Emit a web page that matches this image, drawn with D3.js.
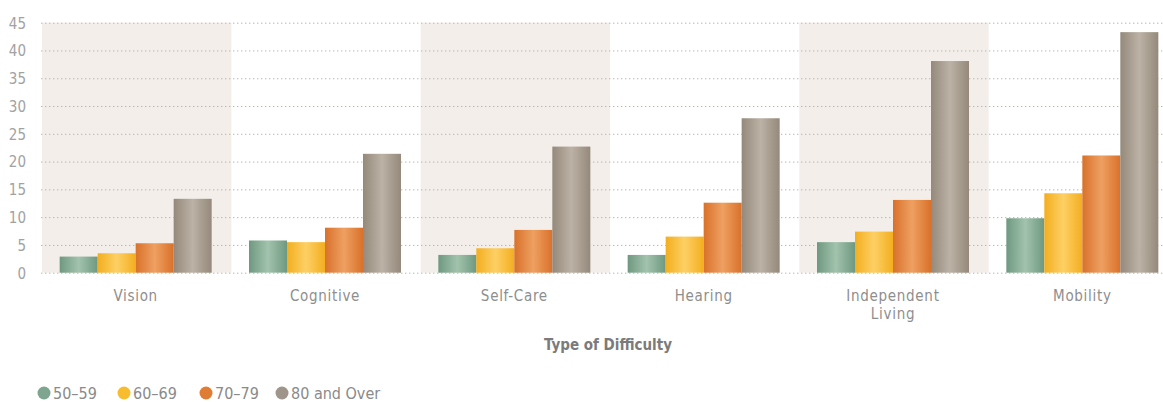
<!DOCTYPE html>
<html>
<head>
<meta charset="utf-8">
<script src="https://cdn.jsdelivr.net/npm/d3@7"></script>
<style>
  html, body { margin: 0; padding: 0; background: #ffffff; }
  svg { display: block; }
  text { font-family: "DejaVu Sans Condensed", "Liberation Sans Narrow", "DejaVu Sans", sans-serif; }
</style>
</head>
<body>
<svg id="chart" width="1163" height="402"></svg>
<script>
// Share of adults reporting each type of difficulty, by age group (%)
const categories = ["Vision", "Cognitive", "Self-Care", "Hearing", "Independent Living", "Mobility"];
const ageGroups = ["50–59", "60–69", "70–79", "80 and Over"];
const age50to59 = [2.9, 5.8, 3.2, 3.2, 5.5, 9.8];
const age60to69 = [3.5, 5.5, 4.4, 6.5, 7.4, 14.3];
const age70to79 = [5.3, 8.1, 7.7, 12.6, 13.1, 21.1];
const age80plus = [13.3, 21.4, 22.7, 27.8, 38.1, 43.3];
const yTicks = [0, 5, 10, 15, 20, 25, 30, 35, 40, 45];
const axisTitle = "Type of Difficulty";

const seriesValues = [age50to59, age60to69, age70to79, age80plus];
const palette = [
  { edge: "#6f9880", mid: "#a2c3ad", key: "#7ea58f" },
  { edge: "#f3ae1f", mid: "#fdd064", key: "#f8bd2e" },
  { edge: "#d9712a", mid: "#eea062", key: "#e07d34" },
  { edge: "#94897b", mid: "#bcb2a5", key: "#a0958a" }
];

const svg = d3.select("#chart");
const W = 1163;
const plot = { left: 41, right: 1177, top: 22.7, bottom: 272.7 };

const x = d3.scaleBand().domain(categories).range([plot.left, plot.right]).padding(0);
const y = d3.scaleLinear().domain([0, 45]).range([plot.bottom, plot.top]);
const groupWidth = 152;
const inner = d3.scaleBand().domain(d3.range(ageGroups.length)).range([0, groupWidth]).padding(0);
const groupOffset = (x.bandwidth() - groupWidth) / 2;

// Gradients giving each bar a rounded, lit look
const defs = svg.append("defs");
palette.forEach((c, i) => {
  const g = defs.append("linearGradient").attr("id", "bar" + i)
    .attr("x1", "0%").attr("x2", "100%").attr("y1", "0%").attr("y2", "0%");
  g.append("stop").attr("offset", "0%").attr("stop-color", c.edge);
  g.append("stop").attr("offset", "50%").attr("stop-color", c.mid);
  g.append("stop").attr("offset", "100%").attr("stop-color", c.edge);
});

// Alternating shaded bands behind categories
svg.append("g").selectAll("rect")
  .data(categories.filter((d, i) => i % 2 === 0))
  .join("rect")
  .attr("x", d => x(d) + 1)
  .attr("y", y(45))
  .attr("width", x.bandwidth())
  .attr("height", y(0) - y(45))
  .attr("fill", "#f3eeea");

// Dotted horizontal gridlines
const yAxis = d3.axisLeft(y).tickValues(yTicks).tickSize(-(W - plot.left)).tickPadding(15);
const yg = svg.append("g").attr("transform", `translate(${plot.left},0)`).call(yAxis);
yg.select(".domain").remove();
yg.selectAll(".tick line")
  .attr("stroke", "#bab4ae")
  .attr("stroke-width", 1)
  .attr("stroke-dasharray", "1.4,2.6");
yg.selectAll(".tick text")
  .attr("fill", "#a2a2a2")
  .attr("font-size", 15)
  .attr("dy", "0.36em");

// Bars
const groups = svg.append("g").selectAll("g")
  .data(categories)
  .join("g")
  .attr("transform", d => `translate(${x(d) + groupOffset},0)`);

groups.selectAll("rect")
  .data((d, ci) => seriesValues.map((s, si) => ({ si, v: s[ci] })))
  .join("rect")
  .attr("x", d => inner(d.si))
  .attr("width", inner.bandwidth())
  .attr("y", d => y(d.v))
  .attr("height", d => y(0) - y(d.v))
  .attr("fill", d => `url(#bar${d.si})`);

// Category labels (wrapping long names onto two lines)
const catLabels = svg.append("g").selectAll("text")
  .data(categories)
  .join("text")
  .attr("x", d => x(d) + x.bandwidth() / 2)
  .attr("y", 301)
  .attr("text-anchor", "middle")
  .attr("fill", "#8e8e8e")
  .attr("font-size", 15)
  .attr("letter-spacing", "0.7px");
catLabels.each(function(d) {
  const words = d.split(" ");
  const t = d3.select(this);
  words.forEach((w, i) => {
    t.append("tspan")
      .attr("x", x(d) + x.bandwidth() / 2)
      .attr("dy", i === 0 ? 0 : 18)
      .text(w);
  });
});

// Axis title
svg.append("text")
  .attr("x", 608)
  .attr("y", 350)
  .attr("text-anchor", "middle")
  .attr("fill", "#7b7b7b")
  .attr("font-size", 15)
  .attr("font-weight", "bold")
  .text(axisTitle);

// Legend
const legendX = [44, 124, 206, 282];
const legend = svg.append("g").selectAll("g")
  .data(ageGroups)
  .join("g")
  .attr("transform", (d, i) => `translate(${legendX[i]},393)`);
legend.append("circle")
  .attr("r", 6.5)
  .attr("fill", (d, i) => palette[i].key);
legend.append("text")
  .attr("x", 9)
  .attr("dy", "0.36em")
  .attr("fill", "#8a8a8a")
  .attr("font-size", 16)
  .text(d => d);
</script>
</body>
</html>
